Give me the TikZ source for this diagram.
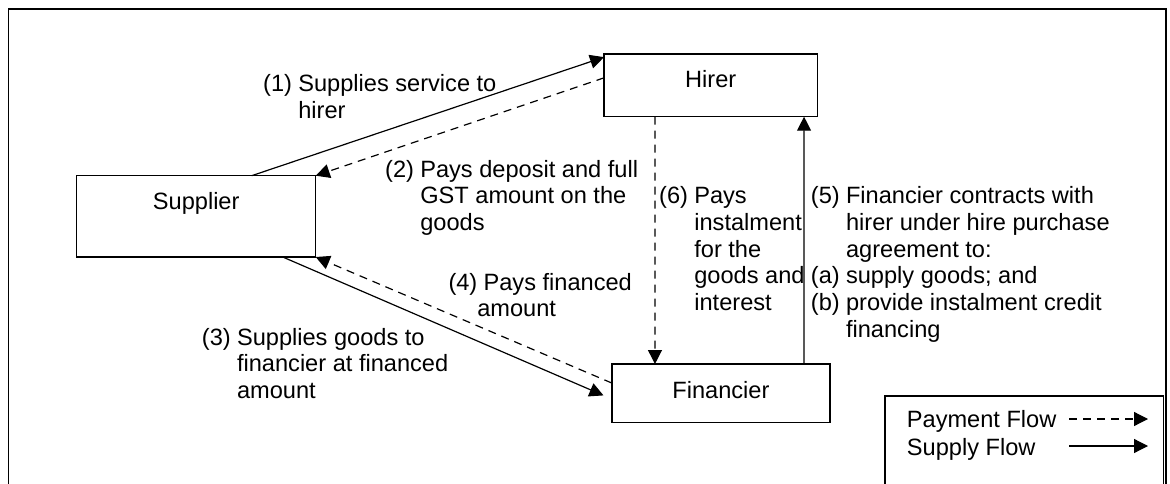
\documentclass[tikz,border=0pt]{standalone}
\usepackage{fontspec}
\setmainfont{Liberation Sans}
\usepackage{tikz}
\usetikzlibrary{calc, arrows.meta, positioning}
\tikzset{
	line width = 1.2pt,
	>={Triangle[length=14pt, width=14pt]},
	font = \fontsize{23.6}{26.8}\selectfont,
	party/.style={
		draw,
		rectangle,
		line width=1.5pt,
		outer sep=0pt,
		inner xsep=0pt,
		inner ysep=17pt,
		text height=17pt,
		anchor=north
	},
	supply/.style={
		->,
		line width=1.2pt
	},
	payment/.style={
		->,
		line width=1.2pt,
		dash pattern=on 8pt off 6pt
	},
	note/.style={
		inner sep=0pt,
		anchor=base west
	}
}
\newcommand{\steptext}[1]{\begin{tabular}[t]{@{}l@{\hspace{6.3pt}}l@{}}#1\end{tabular}}

\begin{document}
\begin{tikzpicture}[x=1pt, y=-1pt]
\useasboundingbox (0,0) rectangle (1170,484);
% ---
% frame
% ---
\draw[line width=1.5pt] (8.4,484) |- (1166,9) -- (1166,484);

% ---
% parties
% ---
\node[party, minimum width=213.3pt, text depth=11.7pt] (hirer) at (710.7,54) {Hirer};
\node[party, minimum width=239pt, text depth=30.3pt] (supplier) at (196.2,175.7) {Supplier};
\node[party, minimum width=218.3pt, text depth=7.3pt] (financier) at (720.9,364) {Financier};

% ---
% flows
% ---
\draw[supply] ($(supplier.north west)!0.732!(supplier.north east)$) -- ($(hirer.north west)!0.05!(hirer.south west)$);
\draw[payment] ($(hirer.north west)!0.38!(hirer.south west)$) -- (supplier.north east);
\draw[supply, shorten >=9pt] ($(supplier.south west)!0.862!(supplier.south east)$) -- ($(financier.north west)!0.6!(financier.south west)$);
\draw[payment] ($(financier.north west)!0.326!(financier.south west)$) -- (supplier.south east);
\draw[supply] ($(financier.north west)!0.881!(financier.north east)$) -- ($(hirer.south west)!0.9377!(hirer.south east)$);
\draw[payment] ($(hirer.south west)!0.239!(hirer.south east)$) -- ($(financier.north west)!0.198!(financier.north east)$);

% ---
% labels
% ---
\node[note] (lbl-1) at (263,92) {\steptext{(1) & Supplies service to\\ & hirer}};
\node[note] (lbl-2) at (385,177) {\steptext{(2) & Pays deposit and full\\ & GST amount on the\\ & goods}};
\node[note] (lbl-6) at (659,203.5) {\steptext{(6) & Pays\\ & instalment\\ & for the\\ & goods and\\ & interest}};
\node[note] (lbl-5) at (810.7,203.5) {\steptext{(5) & Financier contracts with\\ & hirer under hire purchase\\ & agreement to:\\ (a) & supply goods; and\\ (b) & provide instalment credit\\ & financing}};
\node[note] (lbl-4) at (448.3,290) {\steptext{(4) & Pays financed\\ & \hspace{-6.3pt}amount}};
\node[note] (lbl-3) at (201.7,345) {\steptext{(3) & Supplies goods to\\ & financier at financed\\ & amount}};

% ---
% legend
% ---
\draw[line width=1.5pt] (885,484) |- (1163.5,396) -- (1163.5,484);
\node[note] (key-pay) at (906.7,427) {Payment Flow};
\node[note] (key-sup) at (906.7,455.5) {Supply Flow};
\coordinate (key-pay-a) at (1069,419);
\coordinate (key-pay-b) at (1148,419);
\coordinate (key-sup-a) at (1069,446);
\coordinate (key-sup-b) at (1148,446);
\draw[payment] (key-pay-a) -- (key-pay-b);
\draw[supply] (key-sup-a) -- (key-sup-b);
\end{tikzpicture}
\end{document}
